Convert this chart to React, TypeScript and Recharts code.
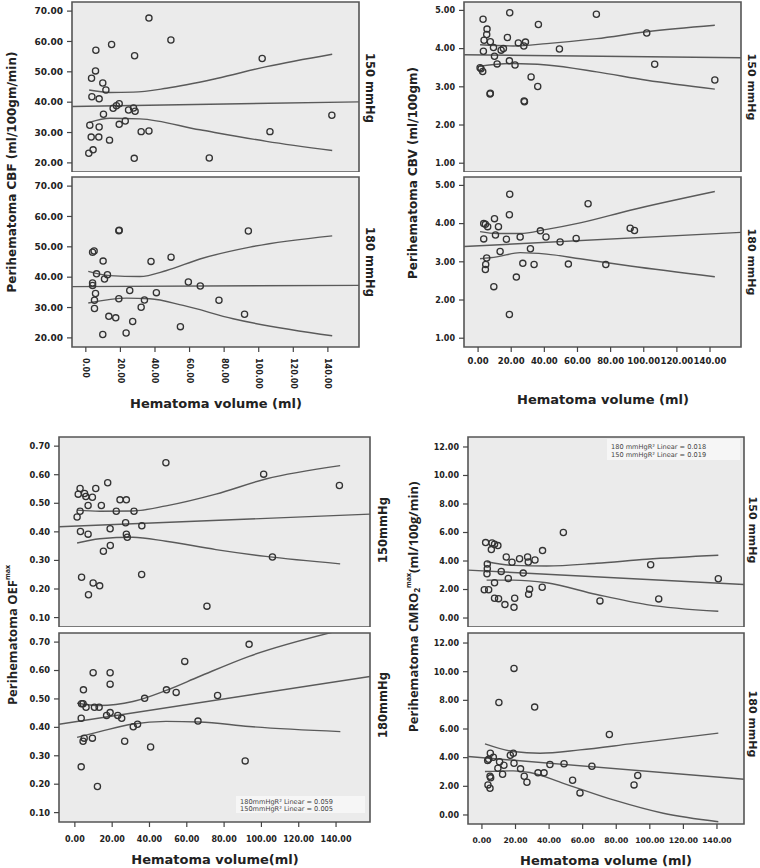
import React from 'react';
import { ComposedChart, XAxis, YAxis, Scatter, Line, CartesianGrid, ReferenceArea } from 'recharts';

type P = { x: number; y: number };
const pts = (a: number[][]): P[] => a.map(([x, y]) => ({ x, y }));

// ---------- data: Perihematoma CBF ----------
const cbf150 = [[36.5,67.7],[49.2,60.5],[5.8,57.1],[14.9,59.0],[28.2,55.3],[102.0,54.4],[5.6,50.3],[3.3,47.9],[9.8,46.3],[11.6,44.0],[3.5,41.8],[7.7,41.1],[15.8,38.0],[17.7,38.8],[19.3,39.5],[24.7,37.4],[27.6,38.1],[28.5,37.0],[10.2,36.0],[142.3,35.7],[2.3,32.4],[19.3,32.7],[22.8,33.8],[7.7,31.8],[32.0,30.3],[36.5,30.5],[106.5,30.3],[3.1,28.5],[7.5,28.5],[13.7,27.5],[1.7,23.2],[4.2,24.3],[28.0,21.5],[71.4,21.6]];
const cbf150Fit = [[-8, 38.6], [158, 40.1]];
const cbf150Up = [[1.9,44.0],[13.9,43.2],[27.4,43.3],[46.7,44.6],[75.6,47.8],[104.5,51.7],[142.5,55.8]];
const cbf150Lo = [[1.9,33.3],[13.9,34.7],[31.2,34.5],[66.0,30.9],[104.5,27.1],[142.5,24.1]];

const cbf180 = [[19.1,55.3],[19.3,55.5],[94.0,55.2],[4.8,48.6],[3.9,48.2],[10.0,45.3],[37.7,45.2],[49.3,46.6],[6.2,41.1],[12.5,40.8],[10.8,39.4],[3.9,38.1],[3.9,37.3],[66.2,37.1],[59.3,38.4],[25.4,35.6],[40.8,34.9],[5.6,34.6],[5.0,32.4],[19.1,32.9],[33.9,32.5],[77.0,32.4],[32.0,30.1],[5.0,29.7],[91.8,27.8],[13.3,27.1],[17.3,26.6],[27.1,25.4],[54.7,23.7],[23.3,21.6],[9.8,21.1]];
const cbf180Fit = [[-8, 36.9], [158, 37.3]];
const cbf180Up = [[1.4,41.9],[13.9,40.5],[31.2,40.2],[46.7,42.2],[66.0,46.0],[94.9,49.9],[142.5,53.6]];
const cbf180Lo = [[1.4,31.5],[23.5,33.1],[37.0,32.9],[56.3,30.7],[85.2,26.3],[142.5,20.7]];

// ---------- data: Perihematoma CBV ----------
const cbv150 = [[19.1,4.94],[71.4,4.90],[3.0,4.77],[5.4,4.51],[5.2,4.37],[36.4,4.63],[101.8,4.41],[17.7,4.29],[3.6,4.22],[7.4,4.18],[24.3,4.15],[28.6,4.17],[27.6,4.07],[9.3,4.03],[15.3,4.00],[13.9,3.96],[49.1,3.99],[3.2,3.93],[9.9,3.80],[18.9,3.68],[11.5,3.60],[22.3,3.57],[106.6,3.59],[1.2,3.50],[1.8,3.47],[2.8,3.40],[32.0,3.26],[36.0,3.01],[142.9,3.18],[7.2,2.81],[7.4,2.83],[27.8,2.63],[28.0,2.61]];
const cbv150Fit = [[-8.5, 3.84], [158.7, 3.76]];
const cbv150Up = [[1.2,4.10],[21.3,4.07],[41.4,4.13],[71.6,4.26],[101.8,4.44],[142.9,4.61]];
const cbv150Lo = [[1.2,3.54],[21.3,3.61],[41.4,3.57],[71.6,3.39],[101.8,3.17],[142.9,2.94]];

const cbv180 = [[19.1,4.77],[66.4,4.52],[18.9,4.23],[9.9,4.13],[3.4,4.00],[4.4,3.98],[5.8,3.92],[12.3,3.92],[91.8,3.88],[94.4,3.82],[37.6,3.81],[10.5,3.70],[41.0,3.65],[25.4,3.65],[3.4,3.60],[17.1,3.59],[59.2,3.61],[49.5,3.52],[31.6,3.34],[13.3,3.27],[5.2,3.10],[27.0,2.96],[4.6,2.93],[33.8,2.93],[54.5,2.94],[77.1,2.93],[4.4,2.80],[23.1,2.60],[9.5,2.35],[18.9,1.62]];
const cbv180Fit = [[-8.5, 3.40], [158.7, 3.77]];
const cbv180Up = [[1.2,3.79],[11.3,3.74],[25.4,3.74],[41.4,3.85],[61.6,4.02],[91.8,4.35],[142.9,4.84]];
const cbv180Lo = [[1.2,3.08],[11.3,3.13],[25.4,3.24],[41.4,3.20],[61.6,3.08],[91.8,2.89],[142.9,2.61]];

// ---------- data: Perihematoma OEFmax ----------
const oef150 = [[48.8,0.642],[101.2,0.602],[141.8,0.562],[17.6,0.572],[2.8,0.552],[11.2,0.552],[1.8,0.532],[5.2,0.534],[5.9,0.524],[9.4,0.521],[24.2,0.512],[27.6,0.512],[7.1,0.492],[14.2,0.492],[2.8,0.472],[22.2,0.472],[31.7,0.472],[1.2,0.452],[27.2,0.432],[35.9,0.421],[18.9,0.411],[3.0,0.401],[7.1,0.392],[27.6,0.392],[28.1,0.381],[19.0,0.352],[15.3,0.332],[105.9,0.312],[35.8,0.251],[3.6,0.241],[9.8,0.221],[13.3,0.211],[7.3,0.180],[70.8,0.140]];
const oef150Fit = [[-8.5, 0.418], [158.2, 0.462]];
const oef150Up = [[1.2,0.476],[13.3,0.472],[31.1,0.473],[48.9,0.491],[75.6,0.532],[102.3,0.585],[142.2,0.632]];
const oef150Lo = [[1.2,0.361],[13.3,0.376],[31.1,0.381],[48.9,0.367],[75.6,0.338],[102.3,0.314],[142.2,0.288]];

const oef180 = [[93.4,0.692],[58.9,0.632],[9.8,0.592],[18.9,0.592],[18.9,0.552],[4.6,0.532],[49.1,0.532],[54.3,0.523],[76.5,0.512],[37.4,0.502],[3.6,0.483],[4.4,0.483],[6.0,0.471],[10.5,0.471],[13.0,0.471],[18.9,0.452],[17.0,0.442],[23.0,0.442],[25.1,0.432],[3.4,0.432],[66.0,0.422],[33.6,0.411],[31.3,0.402],[5.0,0.362],[9.4,0.362],[4.4,0.351],[26.7,0.351],[40.6,0.331],[91.3,0.282],[3.4,0.261],[12.1,0.192]];
const oef180Fit = [[-8.5, 0.411], [158.2, 0.579]];
const oef180Up = [[1.2,0.485],[13.3,0.477],[31.1,0.491],[48.9,0.530],[66.7,0.579],[93.4,0.650],[138.8,0.736]];
const oef180Lo = [[1.2,0.365],[13.3,0.385],[31.1,0.412],[48.9,0.421],[66.7,0.419],[93.4,0.403],[142.3,0.385]];

// ---------- data: Perihematoma CMRO2max ----------
const cmr150 = [[48.5,6.00],[2.2,5.29],[6.0,5.27],[7.5,5.18],[9.5,5.08],[5.6,4.80],[36.1,4.73],[14.5,4.28],[27.2,4.28],[22.4,4.16],[31.6,4.07],[17.9,3.91],[27.6,3.93],[3.2,3.79],[100.5,3.74],[3.2,3.46],[11.5,3.27],[24.6,3.15],[3.0,3.11],[15.7,2.78],[140.8,2.75],[7.5,2.47],[35.9,2.16],[28.4,2.02],[1.4,1.98],[4.0,1.98],[27.8,1.67],[70.3,1.20],[7.5,1.39],[9.9,1.36],[19.5,1.39],[105.3,1.34],[13.7,0.94],[19.1,0.75]];
const cmr150Fit = [[-8.3, 3.36], [156.1, 2.35]];
const cmr150Up = [[2.8,3.95],[18.7,3.69],[38.5,3.65],[68.3,3.84],[98.1,4.12],[140.8,4.40]];
const cmr150Lo = [[2.8,2.66],[18.7,2.66],[38.5,2.47],[68.3,1.65],[98.1,0.94],[140.8,0.47]];

const cmr180 = [[19.1,10.23],[10.1,7.85],[31.4,7.53],[75.9,5.62],[5.0,4.31],[18.7,4.31],[16.9,4.17],[6.8,4.03],[4.0,3.89],[3.4,3.80],[10.5,3.71],[19.1,3.61],[40.5,3.52],[48.9,3.57],[65.5,3.40],[13.1,3.47],[9.5,3.26],[23.0,3.22],[33.4,2.94],[37.0,2.94],[12.3,2.84],[25.2,2.70],[92.8,2.75],[4.8,2.70],[5.2,2.59],[26.8,2.28],[54.0,2.42],[3.6,2.10],[90.6,2.10],[4.8,1.87],[58.4,1.54]];
const cmr180Fit = [[-8.3, 4.08], [156.1, 2.49]];
const cmr180Up = [[1.8,4.96],[18.7,4.43],[34.6,4.31],[58.4,4.54],[88.2,4.96],[140.8,5.71]];
const cmr180Lo = [[1.8,3.03],[18.7,3.08],[28.6,2.96],[48.5,2.21],[78.3,1.05],[108.0,0.12],[140.8,-0.47]];

// ---------- tick labels ----------
const volumeTicks = [0, 20, 40, 60, 80, 100, 120, 140];
const cbfTicks = [20, 30, 40, 50, 60, 70];
const cbvTicks = [1, 2, 3, 4, 5];
const oefTicks = [0.1, 0.2, 0.3, 0.4, 0.5, 0.6, 0.7];
const cmrTicks = [0, 2, 4, 6, 8, 10, 12];

const FONT = "'DejaVu Sans', sans-serif";
const INK = '#222';
const LINE = '#5a5a5a';

const YW = 70;
const TOP = 8;
const RIGHT = 6;

type Frame = { l: number; t: number; r: number; b: number };
interface PanelProps {
  frame: Frame;
  xDomain: [number, number];
  yDomain: [number, number];
  yTicks: number[];
  xMode: 'none' | 'rot' | 'flat';
  xFont?: number;
  yFont: number;
  xTickMargin?: number;
  xH?: number;
  points: number[][];
  fit: number[][];
  up: number[][];
  lo: number[][];
}

const Ring = (props: any) => {
  const { cx, cy } = props;
  if (cx == null || cy == null) return <g />;
  return <circle cx={cx} cy={cy} r={3.1} fill="none" stroke="#333" strokeWidth={1.3} />;
};

function Panel(p: PanelProps) {
  const plotW = p.frame.r - p.frame.l;
  const plotH = p.frame.b - p.frame.t;
  const showX = p.xMode !== 'none';
  const xH = p.xH ?? 50;
  const width = YW + plotW + RIGHT;
  const height = TOP + plotH + (showX ? xH : 0);
  const xFont = p.xFont ?? 8;

  const RotTick = (props: any) => {
    const { x, y, payload } = props;
    return (
      <text x={x} y={y} transform={`rotate(90 ${x} ${y})`} dx={4} textAnchor="start" dominantBaseline="central"
        fontSize={xFont} fontWeight="bold" fontFamily={FONT} fill={INK}>
        {Number(payload.value).toFixed(2)}
      </text>
    );
  };

  return (
    <div style={{ position: 'absolute', left: p.frame.l - YW, top: p.frame.t - TOP }}>
      <ComposedChart width={width} height={height} margin={{ top: TOP, right: RIGHT, left: 0, bottom: 0 }}>
        <CartesianGrid fill="#ebebeb" horizontal={false} vertical={false} />
        <XAxis
          type="number"
          dataKey="x"
          domain={p.xDomain}
          ticks={volumeTicks}
          interval={0}
          hide={!showX}
          height={xH}
          allowDataOverflow
          axisLine={false}
          tickSize={5}
          tickMargin={p.xTickMargin ?? 2}
          tickLine={{ stroke: '#444', strokeWidth: 1.2 }}
          tick={p.xMode === 'rot' ? <RotTick /> : { fontSize: xFont, fontWeight: 'bold', fontFamily: FONT, fill: INK }}
          tickFormatter={(v: number) => v.toFixed(2)}
        />
        <YAxis
          type="number"
          dataKey="y"
          domain={p.yDomain}
          ticks={p.yTicks}
          interval={0}
          width={YW}
          allowDataOverflow
          axisLine={false}
          tickSize={5}
          tickMargin={4}
          tickLine={{ stroke: '#444', strokeWidth: 1.2 }}
          tick={{ fontSize: p.yFont, fontWeight: 'bold', fontFamily: FONT, fill: INK }}
          tickFormatter={(v: number) => v.toFixed(2)}
        />
        <ReferenceArea x1={p.xDomain[0]} x2={p.xDomain[1]} y1={p.yDomain[0]} y2={p.yDomain[1]}
          fill="none" fillOpacity={0} stroke="#555" strokeWidth={1.6} ifOverflow="visible" />
        <Line data={pts(p.fit)} dataKey="y" type="linear" dot={false} stroke={LINE} strokeWidth={1.4} isAnimationActive={false} />
        <Line data={pts(p.up)} dataKey="y" type="monotone" dot={false} stroke={LINE} strokeWidth={1.4} isAnimationActive={false} />
        <Line data={pts(p.lo)} dataKey="y" type="monotone" dot={false} stroke={LINE} strokeWidth={1.4} isAnimationActive={false} />
        <Scatter data={pts(p.points)} dataKey="y" shape={Ring} isAnimationActive={false} />
      </ComposedChart>
    </div>
  );
}

const titleStyle = { fontFamily: FONT, fontWeight: 'bold' as const, fill: INK };
const altTitle = { fontFamily: "'Open Sans', sans-serif", fontWeight: 'bold' as const, fill: INK };

function VText({ x, y, rot, size, children, style = titleStyle }: any) {
  return (
    <text x={x} y={y} transform={`rotate(${rot} ${x} ${y})`} textAnchor="middle" dominantBaseline="central"
      fontSize={size} style={style}>
      {children}
    </text>
  );
}

export default function App() {
  return (
    <div style={{ position: 'absolute', left: 0, top: 0, width: 760, height: 868, background: '#fff', overflow: 'hidden' }}>
      {/* Quadrant 1: CBF */}
      <Panel frame={{ l: 72, t: 2, r: 359, b: 172 }} xDomain={[-8, 158]} yDomain={[17, 73]} yTicks={cbfTicks}
        xMode="none" yFont={9} points={cbf150} fit={cbf150Fit} up={cbf150Up} lo={cbf150Lo} />
      <Panel frame={{ l: 72, t: 177, r: 359, b: 347 }} xDomain={[-8, 158]} yDomain={[17, 73]} yTicks={cbfTicks}
        xMode="rot" xFont={8} xH={50} yFont={9} points={cbf180} fit={cbf180Fit} up={cbf180Up} lo={cbf180Lo} />

      {/* Quadrant 2: CBV */}
      <Panel frame={{ l: 464, t: 2, r: 741, b: 172 }} xDomain={[-8.5, 158.7]} yDomain={[0.77, 5.22]} yTicks={cbvTicks}
        xMode="none" yFont={8} points={cbv150} fit={cbv150Fit} up={cbv150Up} lo={cbv150Lo} />
      <Panel frame={{ l: 464, t: 177, r: 741, b: 347 }} xDomain={[-8.5, 158.7]} yDomain={[0.77, 5.22]} yTicks={cbvTicks}
        xMode="flat" xFont={8.5} xTickMargin={6} xH={30} yFont={8} points={cbv180} fit={cbv180Fit} up={cbv180Up} lo={cbv180Lo} />

      {/* Quadrant 3: OEF */}
      <Panel frame={{ l: 59, t: 437, r: 370, b: 627 }} xDomain={[-8.5, 158.2]} yDomain={[0.067, 0.732]} yTicks={oefTicks}
        xMode="none" yFont={8.3} points={oef150} fit={oef150Fit} up={oef150Up} lo={oef150Lo} />
      <Panel frame={{ l: 59, t: 633, r: 370, b: 822 }} xDomain={[-8.5, 158.2]} yDomain={[0.067, 0.732]} yTicks={oefTicks}
        xMode="flat" xFont={8} xTickMargin={9} xH={30} yFont={8.3} points={oef180} fit={oef180Fit} up={oef180Up} lo={oef180Lo} />

      {/* Quadrant 4: CMRO2 */}
      <Panel frame={{ l: 468, t: 437, r: 744, b: 627 }} xDomain={[-8.3, 156.1]} yDomain={[-0.63, 12.7]} yTicks={cmrTicks}
        xMode="none" yFont={8} points={cmr150} fit={cmr150Fit} up={cmr150Up} lo={cmr150Lo} />
      <Panel frame={{ l: 468, t: 633, r: 744, b: 824 }} xDomain={[-8.3, 156.1]} yDomain={[-0.63, 12.7]} yTicks={cmrTicks}
        xMode="flat" xFont={7.6} xTickMargin={9} xH={30} yFont={8} points={cmr180} fit={cmr180Fit} up={cmr180Up} lo={cmr180Lo} />

      <svg width={760} height={868} style={{ position: 'absolute', left: 0, top: 0, pointerEvents: 'none' }}>
        {/* Q1 */}
        <VText x={12} y={172} rot={-90} size={12}>Perihematoma CBF (ml/100gm/min)</VText>
        <VText x={370} y={88} rot={90} size={11.5}>150 mmHg</VText>
        <VText x={370} y={262} rot={90} size={11.5}>180 mmHg</VText>
        <text x={216} y={403} textAnchor="middle" dominantBaseline="central" fontSize={13} style={titleStyle}>Hematoma volume (ml)</text>

        {/* Q2 */}
        <VText x={413} y={173} rot={-90} size={12}>Perihematoma CBV (ml/100gm)</VText>
        <VText x={751} y={87} rot={90} size={11}>150 mmHg</VText>
        <VText x={751} y={262} rot={90} size={11}>180 mmHg</VText>
        <text x={603} y={399} textAnchor="middle" dominantBaseline="central" fontSize={13} style={titleStyle}>Hematoma volume (ml)</text>

        {/* Q3 */}
        <text x={12} y={635} transform="rotate(-90 12 635)" textAnchor="middle" dominantBaseline="central" fontSize={13} style={altTitle}>
          Perihematoma OEF<tspan fontSize={7} dy={-5}>max</tspan>
        </text>
        <VText x={383} y={530} rot={-90} size={11.5}>150mmHg</VText>
        <VText x={383} y={705} rot={-90} size={11.5}>180mmHg</VText>
        <text x={215} y={859} textAnchor="middle" dominantBaseline="central" fontSize={13} style={titleStyle}>Hematoma volume(ml)</text>
        <rect x={236} y={796} width={129} height={17} fill="#f6f6f6" />
        <text x={240} y={802} fontSize={6.6} fontFamily={FONT} fill="#444" dominantBaseline="central">180mmHgR² Linear = 0.059</text>
        <text x={240} y={809} fontSize={6.6} fontFamily={FONT} fill="#444" dominantBaseline="central">150mmHgR² Linear = 0.005</text>

        {/* Q4 */}
        <text x={413} y={607} transform="rotate(-90 413 607)" textAnchor="middle" dominantBaseline="central" fontSize={13} style={altTitle}>
          Perihematoma CMRO<tspan fontSize={8} dy={3}>2</tspan><tspan fontSize={7} dy={-8}>max</tspan><tspan dy={5}>(ml/100g/min)</tspan>
        </text>
        <VText x={752} y={530} rot={90} size={11}>150 mmHg</VText>
        <VText x={752} y={724} rot={90} size={11}>180 mmHg</VText>
        <text x={606} y={860} textAnchor="middle" dominantBaseline="central" fontSize={13} style={titleStyle}>Hematoma volume (ml)</text>
        <rect x={607} y={439} width={133} height={21} fill="#f6f6f6" />
        <text x={611} y={447} fontSize={6.6} fontFamily={FONT} fill="#444" dominantBaseline="central">180 mmHgR² Linear = 0.018</text>
        <text x={611} y={455} fontSize={6.6} fontFamily={FONT} fill="#444" dominantBaseline="central">150 mmHgR² Linear = 0.019</text>
      </svg>
    </div>
  );
}
